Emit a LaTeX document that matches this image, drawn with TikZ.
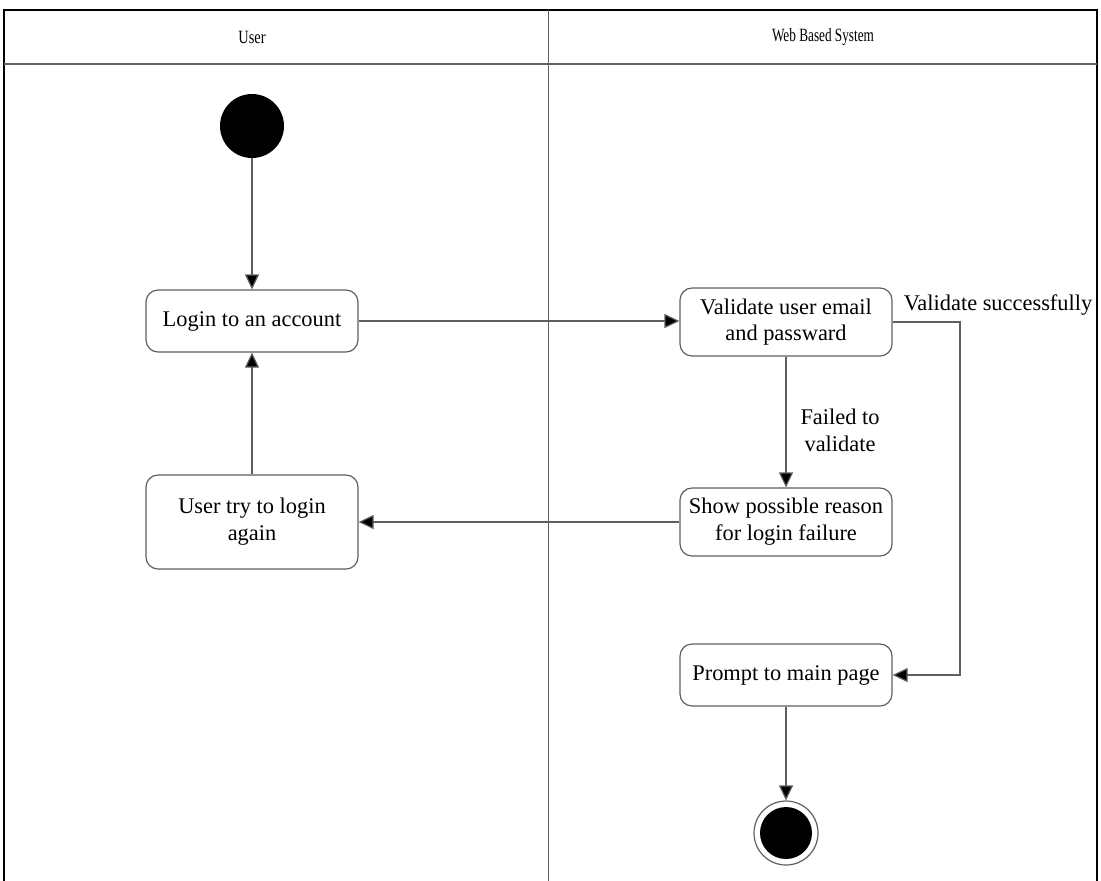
\documentclass[tikz,border=0pt]{standalone}
\usepackage{fontspec}
\setmainfont{Liberation Serif}
\usepackage{xcolor}
\usetikzlibrary{shapes,positioning,arrows.meta}

\definecolor{linegray}{RGB}{95,95,95}

\begin{document}
\begin{tikzpicture}[x=0.5pt, y=-0.5pt,
        activity/.style={rectangle, rounded corners=6pt, draw=linegray, line width=0.6pt, fill=white,
            minimum width=106pt, align=center, font=\fontsize{11.2}{13.4}\selectfont},
        initial/.style={circle, fill=black, minimum size=32pt, inner sep=0pt},
        finalout/.style={circle, draw=linegray, line width=0.6pt, minimum size=32pt, inner sep=0pt},
        finalin/.style={circle, fill=black, minimum size=26pt, inner sep=0pt},
        flow/.style={draw=linegray, line width=0.6pt, -{Triangle[length=7.5pt, width=7pt, fill=black]}},
        guard/.style={font=\fontsize{11.2}{13.4}\selectfont, align=center, inner sep=0pt},
        lanetitle/.style={font=\fontsize{7.2}{9}\selectfont}
    ]
        \useasboundingbox (0,0) rectangle (1101,880);

        % Swimlanes
        \draw[black, line width=1pt] (4,884) |- (1097,10) -- (1097,884);
        \draw[linegray, line width=1pt] (4,64) -- (1097,64);
        \draw[linegray, line width=0.5pt] (548,10) -- (548,884);
        \node[lanetitle] (user) at (252,37) {\scalebox{1}[1.3]{User}};
        \node[lanetitle] (system) at (823,37) {\scalebox{0.92}[1.3]{Web Based System}};

        % Activities
        \node[initial] (start) at (252,126) {};
        \node[activity, minimum height=31pt] (login) at (252,321) {Login to an account};
        \node[activity, minimum height=47pt] (retry) at (252,522) {User try to login\\again};
        \node[activity, minimum height=34pt] (validate) at (786,322) {Validate user email\\and passward};
        \node[activity, minimum height=34pt] (reason) at (786,522) {Show possible reason\\for login failure};
        \node[activity, minimum height=31pt] (prompt) at (786,675) {Prompt to main page};
        \node[finalout] (stop) at (786,833) {};
        \node[finalin] (stopdot) at (stop) {};

        % Guards
        \node[guard] (ok) at (998,305) {Validate successfully};
        \node[guard] (fail) at (840,430) {Failed to\\validate};

        % Connections
        \draw[flow] (start) -- (login);
        \draw[flow] (login.east) -- (login.east -| validate.west);
        \draw[flow] (validate) -- (reason);
        \draw[flow] (reason.west) -- (retry.east);
        \draw[flow] (retry) -- (login);
        \coordinate (turn) at (960,322);
        \draw[flow] (validate.east) -- (turn) |- (prompt.east);
        \draw[flow] (prompt) -- (stop);

    \end{tikzpicture}
\end{document}
